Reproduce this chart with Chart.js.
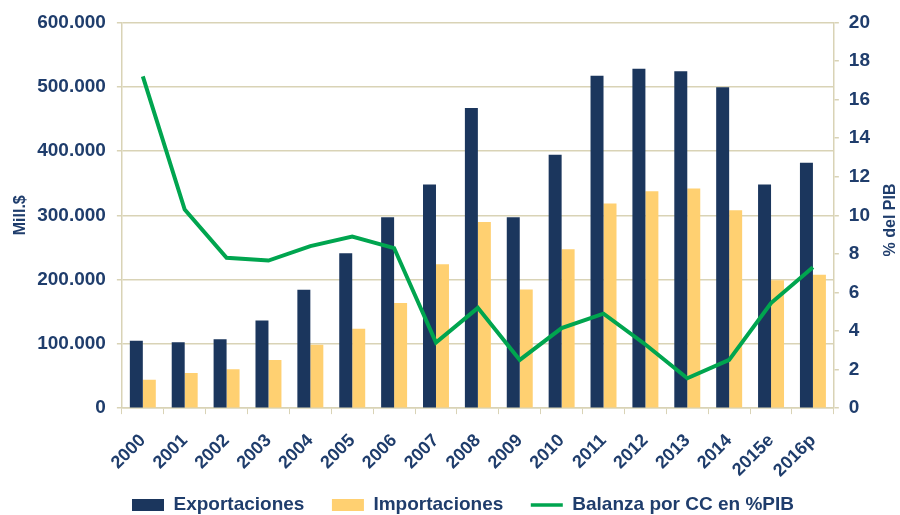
<!DOCTYPE html>
<html lang="es">
<head>
<meta charset="UTF-8">
<title>Exportaciones, Importaciones y Balanza por CC</title>
<style>
  html, body { margin: 0; padding: 0; background: #ffffff; }
  #wrap { width: 900px; height: 515px; position: relative; }
</style>
</head>
<body>
<div id="wrap"><canvas id="chart"></canvas></div>
<script src="https://cdn.jsdelivr.net/npm/chart.js@4"></script>
<script>
// datos
const years = ['2000', '2001', '2002', '2003', '2004', '2005', '2006', '2007', '2008',
               '2009', '2010', '2011', '2012', '2013', '2014', '2015e', '2016p'];
const exportaciones = [105000, 102500, 107000, 136500, 184000, 241000, 297000, 348000, 467000,
                       297000, 394000, 517000, 528000, 524000, 499000, 348000, 381500];
const importaciones = [44000, 54500, 60500, 75000, 98500, 123500, 163500, 224000, 289500,
                       184500, 247000, 318500, 337500, 341500, 308000, 199000, 207500];
const balanzaPIB = [17.2, 10.3, 7.8, 7.65, 8.4, 8.9, 8.3, 3.4, 5.2,
                    2.5, 4.15, 4.9, 3.3, 1.55, 2.5, 5.45, 7.3];

const navy = '#1B365D';
const gold = '#FFD071';
const green = '#00A54F';
const txt = '#1F3D6C';
const beige = '#D9D3B6';

Chart.defaults.font.family = '"Liberation Sans", Arial, sans-serif';
Chart.defaults.font.weight = 'bold';
Chart.defaults.color = txt;

// título del eje derecho, leído de abajo hacia arriba como en el original
const rightTitle = {
  id: 'rightTitle',
  afterDraw(chart) {
    const ctx = chart.ctx;
    ctx.save();
    ctx.translate(891, 220);
    ctx.rotate(-Math.PI / 2);
    ctx.font = 'bold 16px "Liberation Sans", Arial, sans-serif';
    ctx.fillStyle = txt;
    ctx.textAlign = 'center';
    ctx.textBaseline = 'middle';
    ctx.fillText('% del PIB', 0, 0);
    ctx.restore();
  }
};

// la leyenda del original está algo a la derecha y pegada al borde inferior
const legendShift = {
  id: 'legendShift',
  afterLayout(chart) {
    const lg = chart.legend;
    const dx = 463 - (lg.left + lg.right) / 2;
    const dy = 468 - lg.top;
    lg.left += dx; lg.right += dx;
    lg.top += dy; lg.bottom += dy;
  }
};

new Chart(document.getElementById('chart'), {
  type: 'bar',
  data: {
    labels: years,
    datasets: [
      {
        type: 'line',
        label: 'Balanza por CC en %PIB',
        data: balanzaPIB,
        yAxisID: 'y1',
        borderColor: green,
        backgroundColor: green,
        borderWidth: 4,
        pointRadius: 0,
        tension: 0,
        order: 0
      },
      {
        label: 'Exportaciones',
        data: exportaciones,
        yAxisID: 'y',
        backgroundColor: navy,
        categoryPercentage: 0.62,
        barPercentage: 1.0,
        order: 1
      },
      {
        label: 'Importaciones',
        data: importaciones,
        yAxisID: 'y',
        backgroundColor: gold,
        categoryPercentage: 0.62,
        barPercentage: 1.0,
        order: 1
      }
    ]
  },
  options: {
    responsive: true,
    maintainAspectRatio: false,
    animation: false,
    layout: { padding: { top: 14.5, right: 20, left: 3, bottom: -39 } },
    plugins: {
      tooltip: { enabled: false },
      legend: {
        position: 'bottom',
        labels: {
          usePointStyle: true,
          pointStyleWidth: 32,
          boxHeight: 12,
          padding: 27.5,
          font: { size: 19, weight: 'bold' },
          color: txt,
          generateLabels(chart) {
            const order = [1, 2, 0];
            return order.map(i => {
              const ds = chart.data.datasets[i];
              const isLine = ds.type === 'line';
              return {
                text: ds.label,
                fillStyle: isLine ? green : ds.backgroundColor,
                strokeStyle: isLine ? green : ds.backgroundColor,
                lineWidth: isLine ? 3.5 : 0,
                pointStyle: isLine ? 'line' : 'rect',
                fontColor: txt,
                hidden: false,
                datasetIndex: i
              };
            });
          }
        }
      }
    },
    scales: {
      x: {
        grid: { display: true, drawOnChartArea: false, offset: true, color: beige, tickLength: 6 },
        border: { color: beige, width: 1.5 },
        ticks: {
          autoSkip: false,
          minRotation: 45,
          maxRotation: 45,
          padding: 16,
          font: { size: 18, weight: 'bold' }
        }
      },
      y: {
        position: 'left',
        min: 0,
        max: 600000,
        grid: { color: beige, lineWidth: 1.5, tickLength: 5 },
        border: { color: beige, width: 1.5 },
        ticks: {
          stepSize: 100000,
          padding: 11,
          font: { size: 19, weight: 'bold' },
          callback: v => v.toLocaleString('de-DE')
        },
        title: {
          display: true,
          text: 'Mill.$',
          font: { size: 16, weight: 'bold' },
          color: txt,
          padding: { top: 7.5, bottom: -3.5 }
        }
      },
      y1: {
        position: 'right',
        min: 0,
        max: 20,
        grid: { drawOnChartArea: false, color: beige, lineWidth: 1.5, tickLength: 5 },
        border: { color: beige, width: 1.5 },
        ticks: {
          stepSize: 2,
          padding: 10,
          font: { size: 19, weight: 'bold' }
        }
      }
    }
  },
  plugins: [rightTitle, legendShift]
});
</script>
</body>
</html>
